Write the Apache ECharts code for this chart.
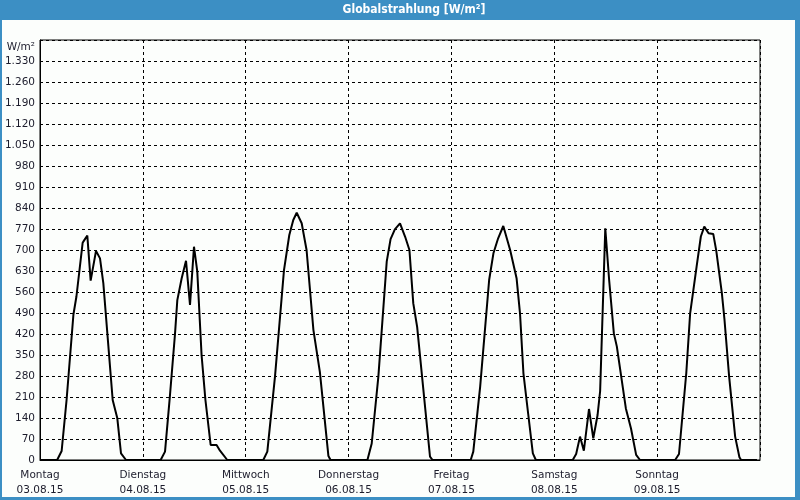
<!DOCTYPE html>
<html>
<head>
<meta charset="utf-8">
<script src="https://cdn.jsdelivr.net/npm/echarts@6/dist/echarts.min.js"></script>
<style>
  html, body { margin: 0; padding: 0; background: #fcfefc; }
  #chart { width: 800px; height: 500px; }
</style>
</head>
<body>
<div id="chart"></div>
<script>
// Hours since Monday 03.08.15 00:00
var hours = [
  0, 4.0, 5.05, 6.2, 7.8, 8.5, 9.95, 10.3, 11.04, 11.82, 13.07, 14.0, 14.78, 16.96, 18.04, 18.9, 20.07,
  28.15, 29.17, 30.3, 31.5, 32.04, 33.06, 34.07, 35.0, 35.93, 36.7, 37.7, 38.6, 39.82, 41.2, 42.0, 43.7,
  52.1, 53.04, 54.83, 56.93, 58.17, 59.1, 59.9, 61.06, 62.2, 63.8, 65.3, 67.3, 67.8,
  76.4, 77.4, 78.95, 80.9, 81.8, 82.8, 84.0, 85.2, 86.2, 87.1, 88.0, 91.0, 91.6,
  100.5, 101.1, 102.7, 104.8, 105.8, 106.9, 108.1, 109.7, 111.2, 112.0, 112.8, 113.9, 115.0, 115.7,
  124.3, 125.1, 126.0, 126.9, 128.1, 129.1, 130.1, 130.7, 131.9, 132.3, 132.8, 133.9, 134.6, 136.7, 137.9, 139.1, 140.0,
  148.2, 149.1, 150.8, 151.7, 153.2, 154.2, 155.0, 156.0, 157.1, 157.8, 159.1, 159.7, 160.8, 162.2, 163.2, 163.6, 167.3
];
// Global radiation W/m²
var radiation = [
  0, 0, 30, 200, 485, 545, 724, 732, 748, 598, 697, 672, 589, 200, 139, 22, 0,
  0, 28, 211, 420, 533, 606, 664, 517, 711, 628, 350, 200, 50, 50, 31, 0,
  0, 28, 278, 633, 750, 800, 824, 789, 700, 433, 294, 13, 0,
  0, 55, 278, 661, 736, 769, 789, 744, 700, 522, 444, 11, 0,
  0, 28, 244, 600, 689, 739, 780, 700, 606, 489, 289, 155, 22, 0,
  0, 20, 78, 31, 170, 72, 150, 230, 772, 772, 600, 422, 378, 172, 105, 17, 0,
  0, 20, 290, 489, 644, 745, 778, 756, 753, 697, 556, 470, 278, 78, 9, 0, 0
];
var dayNames = ['Montag', 'Dienstag', 'Mittwoch', 'Donnerstag', 'Freitag', 'Samstag', 'Sonntag'];
var dayDates = ['03.08.15', '04.08.15', '05.08.15', '06.08.15', '07.08.15', '08.08.15', '09.08.15'];
var yUnit = 'W/m²';
var titleText = 'Globalstrahlung [W/m²]';

var seriesData = hours.map(function (h, i) { return [h, radiation[i]]; });

function fmtThousands(v) {
  return String(v).replace(/\B(?=(\d{3})+(?!\d))/g, '.');
}

var FONT = '"DejaVu Sans", Verdana, sans-serif';
var BLUE = '#3c8fc4';

var chart = echarts.init(document.getElementById('chart'), null, { renderer: 'canvas' });
chart.setOption({
  backgroundColor: '#fcfefc',
  animation: false,
  title: {
    text: titleText,
    left: 414,
    top: 4,
    padding: 0,
    textAlign: 'center',
    textStyle: { color: '#ffffff', fontSize: 12, fontWeight: 'bold', fontFamily: '"DejaVu Sans Condensed", "DejaVu Sans", sans-serif' },
    z: 10
  },
  graphic: [
    { type: 'rect', shape: { x: 0, y: 0, width: 800, height: 20 }, style: { fill: BLUE }, z: -1, silent: true },
    { type: 'rect', shape: { x: 0, y: 0, width: 2, height: 500 }, style: { fill: BLUE }, z: -1, silent: true },
    { type: 'rect', shape: { x: 795, y: 0, width: 5, height: 500 }, style: { fill: BLUE }, z: -1, silent: true },
    { type: 'rect', shape: { x: 0, y: 497, width: 800, height: 3 }, style: { fill: BLUE }, z: -1, silent: true }
  ],
  grid: {
    left: 40, right: 40, top: 40, bottom: 40,
    show: true, borderColor: '#000', borderWidth: 1, backgroundColor: 'transparent'
  },
  xAxis: {
    type: 'value',
    min: 0, max: 168, interval: 24,
    axisLine: { show: true, lineStyle: { color: '#000', width: 1 } },
    axisTick: { show: false },
    splitLine: { show: true, lineStyle: { color: '#000', type: [3, 3], width: 1 } },
    axisLabel: {
      margin: 8,
      color: '#1c1c2c',
      fontFamily: FONT,
      fontSize: 10.5,
      lineHeight: 15,
      showMaxLabel: true,
      formatter: function (v) {
        var idx = Math.round(v / 24);
        if (idx >= dayNames.length) return '';
        return dayNames[idx] + '\n' + dayDates[idx];
      }
    }
  },
  yAxis: {
    type: 'value',
    min: 0, max: 1400, interval: 70,
    name: yUnit,
    nameLocation: 'end',
    nameGap: -7,
    nameTextStyle: { color: '#1c1c2c', fontFamily: FONT, fontSize: 10.5, align: 'right', verticalAlign: 'middle', padding: [0, 5, 0, 0] },
    axisLine: { show: true, lineStyle: { color: '#000', width: 1 } },
    axisTick: { show: false },
    splitLine: { show: true, lineStyle: { color: '#000', type: [3, 3], width: 1 } },
    axisLabel: {
      margin: 5,
      color: '#1c1c2c',
      fontFamily: FONT,
      fontSize: 10.5,
      formatter: function (v) {
        if (v >= 1400) return '';
        return fmtThousands(v);
      }
    }
  },
  series: [{
    type: 'line',
    data: seriesData,
    showSymbol: false,
    symbol: 'none',
    lineStyle: { color: '#000', width: 2 },
    itemStyle: { color: '#000' },
    z: 5
  }]
});
</script>
</body>
</html>
